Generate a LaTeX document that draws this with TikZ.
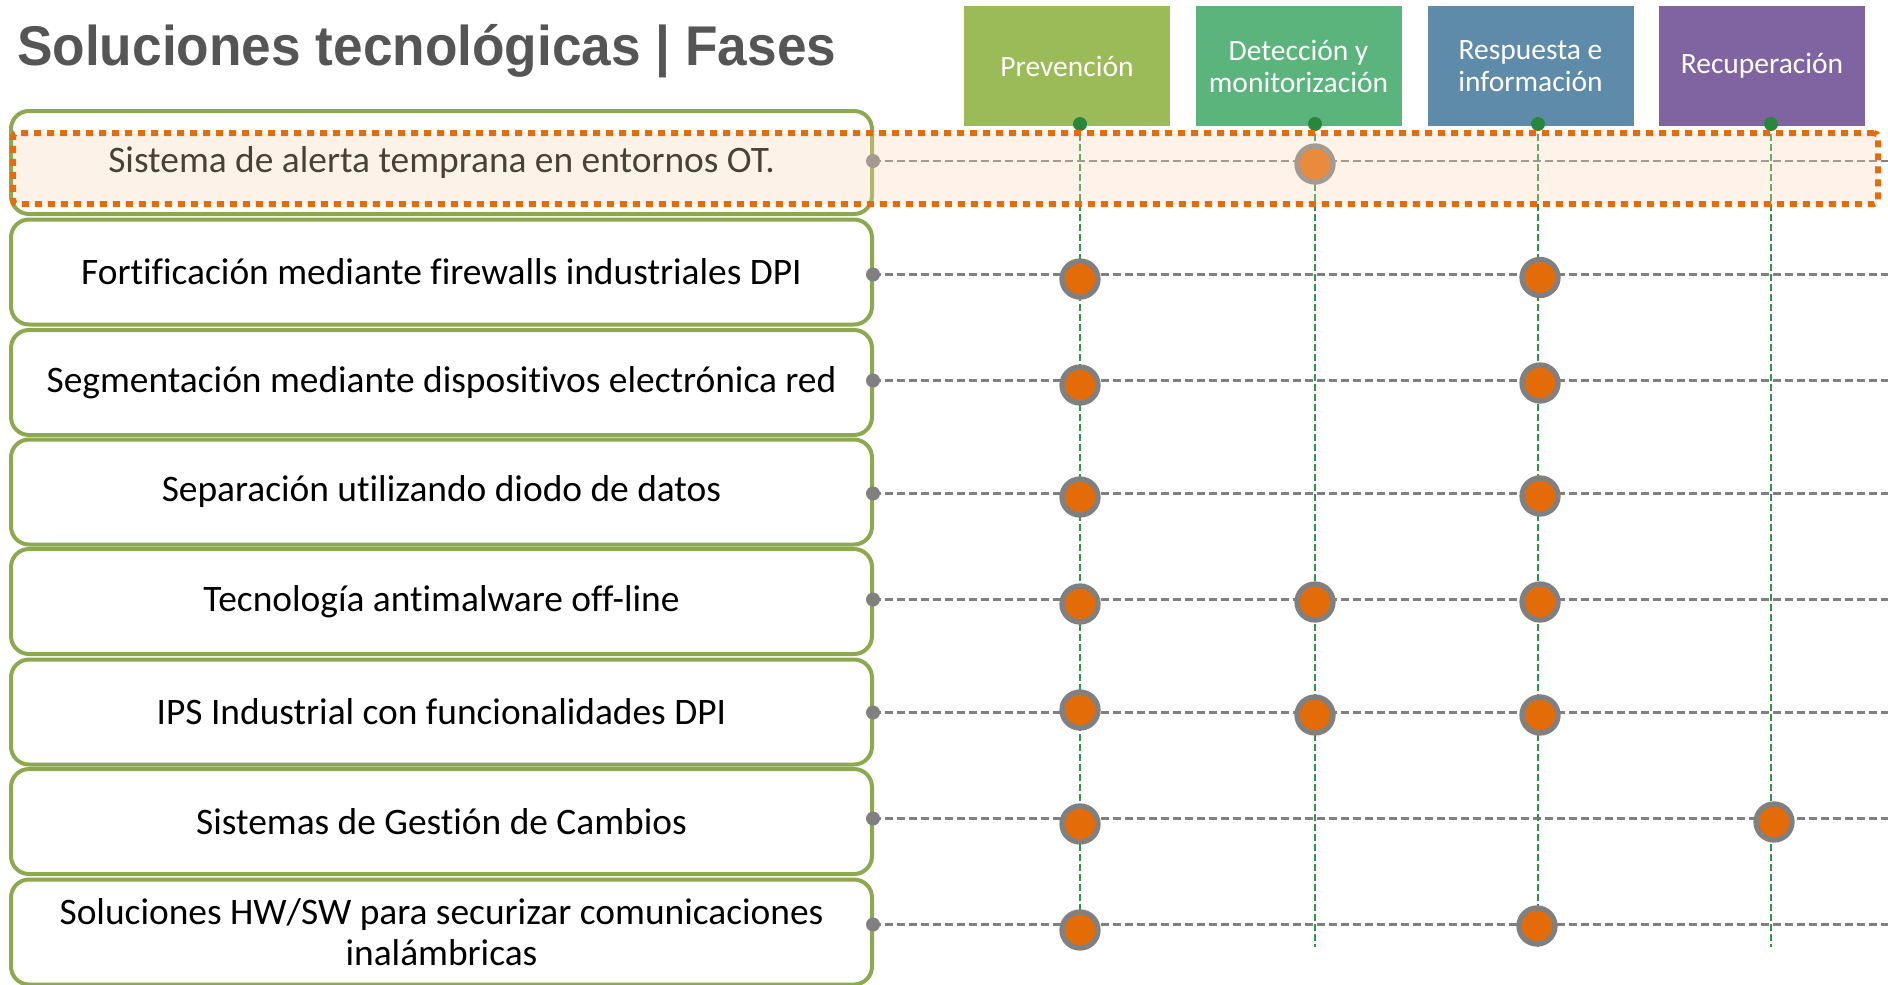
\documentclass[tikz,border=0pt]{standalone}
\usepackage{fontspec}
\setmainfont{Carlito}[Ligatures={TeX,NoCommon}]
\newfontfamily\titlefont{Liberation Sans}
\definecolor{titlegray}{RGB}{85,85,85}
\definecolor{boxgreen}{RGB}{141,169,80}
\definecolor{prevc}{RGB}{155,187,89}
\definecolor{detc}{RGB}{92,180,125}
\definecolor{respc}{RGB}{95,139,170}
\definecolor{recc}{RGB}{128,100,162}
\definecolor{linegreen}{RGB}{46,150,70}
\definecolor{dotgreen}{RGB}{40,135,60}
\definecolor{dotorange}{RGB}{227,108,9}
\definecolor{midgray}{RGB}{128,128,128}
\definecolor{hlorange}{RGB}{228,108,10}
\definecolor{peach}{RGB}{251,213,181}
\pgfdeclarelayer{boxes}
\pgfdeclarelayer{lines}
\pgfdeclarelayer{top}
\pgfsetlayers{boxes,lines,main,top}
\begin{document}
\begin{tikzpicture}[x=1pt,y=-1pt,
  rowbox/.style={draw=boxgreen, line width=4pt, fill=white, rounded corners=18pt,
    minimum width=861pt, minimum height=105pt, inner sep=0pt, align=center,
    font=\fontsize{37.4}{41}\selectfont},
  phase/.style={fill=#1, minimum width=206pt, minimum height=120pt, inner sep=0pt,
    align=center, text=white, font=\fontsize{29.5}{32}\selectfont},
  hline/.style={draw=midgray, line width=2.7pt, dash pattern=on 8pt off 4pt},
  vline/.style={draw=linegreen, line width=2pt, dash pattern=on 7pt off 3pt},
  sdot/.style={circle, fill=midgray, minimum size=14pt, inner sep=0pt},
  gdot/.style={circle, fill=dotgreen, minimum size=14pt, inner sep=0pt},
  odot/.style={circle, fill=dotorange, draw=midgray, line width=5.3pt, minimum size=36pt, inner sep=0pt},
  band/.style={draw=hlorange, line width=6pt, dash pattern=on 7pt off 6pt,
    fill=peach, fill opacity=0.3, draw opacity=1, rounded corners=4pt,
    minimum width=1865pt, minimum height=71pt, inner sep=0pt}
]
\useasboundingbox (0,0) rectangle (1888,985);

% title
\node[anchor=base west, inner sep=0pt, text=titlegray,
  font=\titlefont\bfseries\fontsize{56}{60}\selectfont] (title) at (17,65)
  {\scalebox{0.95}[1]{Soluciones tecnológicas | Fases}};

\begin{pgfonlayer}{boxes}
% phase headers
\node[phase=prevc] (p1) at (1067,66) {Prevención};
\node[phase=detc]  (p2) at (1298.5,66) {Detección y\\monitorización};
\node[phase=respc] (p3) at (1530.5,66) {Respuesta e\\información};
\node[phase=recc]  (p4) at (1762,66) {Recuperación};
% rows
\node[rowbox, minimum height=103pt] (r1) at (441.5,162.5) {Sistema de alerta temprana en entornos OT.};
\node[rowbox] (r2) at (441.5,272) {Fortificación mediante firewalls industriales DPI};
\node[rowbox] (r3) at (441.5,382.5) {Segmentación mediante dispositivos electrónica red};
\node[rowbox] (r4) at (441.5,492) {Separación utilizando diodo de datos};
\node[rowbox] (r5) at (441.5,601.5) {Tecnología antimalware off-line};
\node[rowbox] (r6) at (441.5,712) {IPS Industrial con funcionalidades DPI};
\node[rowbox] (r7) at (441.5,821.5) {Sistemas de Gestión de Cambios};
\node[rowbox] (r8) at (441.5,932) {Soluciones HW/SW para securizar comunicaciones\\inalámbricas};
\end{pgfonlayer}

% small gray connector dots on box edges
\node[sdot] (s1) at (873,161) {};
\node[sdot] (s2) at (873,274.5) {};
\node[sdot] (s3) at (873,380.5) {};
\node[sdot] (s4) at (873,493.5) {};
\node[sdot] (s5) at (873,599.5) {};
\node[sdot] (s6) at (873,712.5) {};
\node[sdot] (s7) at (873,818.5) {};
\node[sdot] (s8) at (873,924.5) {};
\foreach \i/\y in {1/161,2/274.5,3/380.5,4/493.5,5/599.5,6/712.5,7/818.5,8/924.5}
  \coordinate (e\i) at (1888,\y);

% green top dots
\node[gdot] (g1) at (1080,124) {};
\node[gdot] (g2) at (1315,124) {};
\node[gdot] (g3) at (1538,124) {};
\node[gdot] (g4) at (1771,124) {};
\coordinate (v1) at (1080,947);
\coordinate (v2) at (1315,947);
\coordinate (v3) at (1538,947);
\coordinate (v4) at (1771,947);

% orange dots
\node[odot] (o1c2) at (1315,164) {};
\node[odot] (o2c1) at (1080,279) {};
\node[odot] (o2c3) at (1540,277.5) {};
\node[odot] (o3c1) at (1080,385) {};
\node[odot] (o3c3) at (1540,383) {};
\node[odot] (o4c1) at (1080,497) {};
\node[odot] (o4c3) at (1540,496) {};
\node[odot] (o5c1) at (1080,604) {};
\node[odot] (o5c2) at (1315,602) {};
\node[odot] (o5c3) at (1540,602) {};
\node[odot] (o6c1) at (1080,710) {};
\node[odot] (o6c2) at (1315,715) {};
\node[odot] (o6c3) at (1540,715) {};
\node[odot] (o7c1) at (1080,824) {};
\node[odot] (o7c4) at (1774,822) {};
\node[odot] (o8c1) at (1080,930) {};
\node[odot] (o8c3) at (1537,926) {};

\begin{pgfonlayer}{lines}
\foreach \i in {1,...,8}
  \draw[hline] (s\i.center) -- (e\i);
\foreach \j in {1,...,4}
  \draw[vline] (g\j.center) -- (v\j);
\end{pgfonlayer}

\begin{pgfonlayer}{top}
\node[band] (hl) at (945.5,168.5) {};
\end{pgfonlayer}
\end{tikzpicture}
\end{document}
